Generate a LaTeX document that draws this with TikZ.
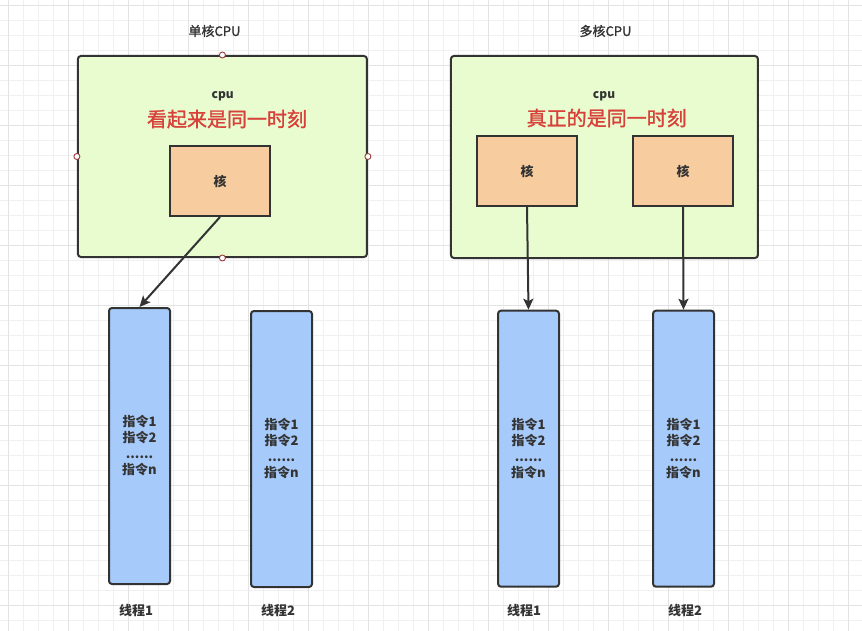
\documentclass[tikz,border=0pt]{standalone}
\usepackage{fontspec}
\setmainfont{Noto Sans CJK SC}
\newfontfamily\medio[FakeBold=1.3]{Noto Sans CJK SC}
\usetikzlibrary{arrows.meta}

\begin{document}
\begin{tikzpicture}[x=1pt,y=-1pt,
	caja/.style={draw=trazo,line width=2pt,inner sep=0pt,align=center,text=texto,font=\fontsize{13}{16}\selectfont\bfseries},
	cpucaja/.style={caja,fill=verde,rounded corners=3pt},
	nucleo/.style={caja,fill=naranja,minimum width=100pt,minimum height=70pt},
	hilo/.style={caja,fill=azul,rounded corners=3pt,minimum width=61pt,minimum height=276pt},
	puerto/.style={circle,draw=puntorojo,fill=white,line width=0.9pt,minimum size=6pt,inner sep=0pt},
	rotulo/.style={text=texto,font=\fontsize{13}{16}\selectfont\medio},
	rotulonegro/.style={text=texto,font=\fontsize{13}{16}\selectfont\bfseries},
	rojo/.style={text=textorojo,font=\fontsize{20}{24}\selectfont\medio},
	flecha/.style={draw=trazo,line width=2pt,-{Stealth[length=11pt,width=10pt,inset=2.5pt]}}]
		%COLORES
		\definecolor{trazo}{HTML}{333333}
		\definecolor{texto}{HTML}{333333}
		\definecolor{textorojo}{HTML}{D8403A}
		\definecolor{verde}{HTML}{E8FCD0}
		\definecolor{naranja}{HTML}{F7CD9F}
		\definecolor{azul}{HTML}{A6CAFA}
		\definecolor{puntorojo}{HTML}{9B3B3B}
		\definecolor{lineamenor}{HTML}{F0F0F0}
		\definecolor{lineamayor}{HTML}{E3E3E3}

		%FONDO
		\useasboundingbox (0,0) rectangle (862,631);
		\fill[white] (0,0) rectangle (862,631);
		\foreach \x in {8,23,...,856}{
			\draw[lineamenor,line width=0.8pt] (\x,0) -- (\x,631);
		}
		\foreach \y in {5,20,...,630}{
			\draw[lineamenor,line width=0.8pt] (0,\y) -- (862,\y);
		}
		\foreach \x in {8,68,...,848}{
			\draw[lineamayor,line width=0.8pt] (\x,0) -- (\x,631);
		}
		\foreach \y in {5,65,...,605}{
			\draw[lineamayor,line width=0.8pt] (0,\y) -- (862,\y);
		}

		%UN NUCLEO
		\node[rotulo] (tit1) at (214.5,31) {单核CPU};
		\node[cpucaja,minimum width=289pt,minimum height=201pt] (cpu1) at (222.4,156.5) {};
		\node[rotulonegro,font=\fontsize{12}{14}\selectfont\bfseries] (nom1) at (222.7,96) {cpu};
		\node[rojo] (frase1) at (227,119) {看起来是同一时刻};
		\node[nucleo] (nuc1) at (220,181) {核};
		\node[puerto] (pn) at (cpu1.north) {};
		\node[puerto] (ps) at (cpu1.south) {};
		\node[puerto] (po) at (cpu1.west) {};
		\node[puerto] (pe) at (cpu1.east) {};
		\node[hilo] (h1) at (139.5,446) {指令1\\指令2\\......\\指令n};
		\node[hilo] (h2) at (281.5,449) {指令1\\指令2\\......\\指令n};
		\node[rotulonegro] (et1) at (136,610.5) {线程1};
		\node[rotulonegro] (et2) at (278,610.5) {线程2};
		\draw[flecha] (nuc1.south) -- (h1.north);

		%VARIOS NUCLEOS
		\node[rotulo] (tit2) at (605.5,31) {多核CPU};
		\node[cpucaja,minimum width=307pt,minimum height=202pt] (cpu2) at (604.4,157) {};
		\node[rotulonegro,font=\fontsize{12}{14}\selectfont\bfseries] (nom2) at (604,96) {cpu};
		\node[rojo] (frase2) at (606.7,118) {真正的是同一时刻};
		\node[nucleo] (nuc2) at (527,171) {核};
		\node[nucleo] (nuc3) at (683,171) {核};
		\node[hilo] (h3) at (528.5,448.7) {指令1\\指令2\\......\\指令n};
		\node[hilo] (h4) at (683.5,448.7) {指令1\\指令2\\......\\指令n};
		\node[rotulonegro] (et3) at (524,610.5) {线程1};
		\node[rotulonegro] (et4) at (685,610.5) {线程2};
		\draw[flecha] (nuc2.south) -- (h3.north);
		\draw[flecha] (nuc3.south) -- (h4.north);
	\end{tikzpicture}
\end{document}
